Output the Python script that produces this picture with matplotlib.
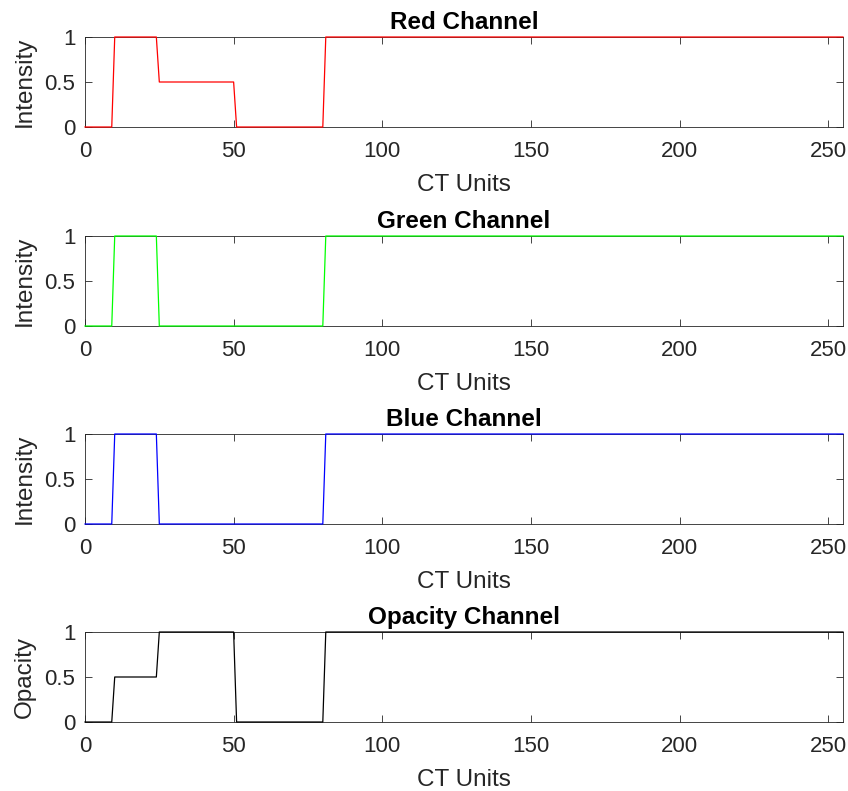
import matplotlib
matplotlib.use("Agg")
import matplotlib.pyplot as plt

plt.rcParams['font.family'] = ['Liberation Sans', 'DejaVu Sans']

# breakpoints of each transfer function (CT units -> value)
ct_points = [0, 9, 10, 24, 25, 50, 51, 80, 81, 255]
red_values = [0, 0, 1, 1, 0.5, 0.5, 0, 0, 1, 1]
green_values = [0, 0, 1, 1, 0, 0, 0, 0, 1, 1]
blue_values = [0, 0, 1, 1, 0, 0, 0, 0, 1, 1]
opacity_values = [0, 0, 0.5, 0.5, 1, 1, 0, 0, 1, 1]

titles = ['Red Channel', 'Green Channel', 'Blue Channel', 'Opacity Channel']
ylabels = ['Intensity', 'Intensity', 'Intensity', 'Opacity']
colors = ['#ff0000', '#00ff00', '#0000ff', '#000000']
series = [red_values, green_values, blue_values, opacity_values]

fig = plt.figure(figsize=(8.48, 7.91), dpi=100)

left, width, height = 85 / 848, 758 / 848, 90 / 791
tops = [37, 236, 434, 632]

for top, title, ylab, col, vals in zip(tops, titles, ylabels, colors, series):
    bottom = 1 - (top + 90) / 791
    ax = fig.add_axes([left, bottom, width, height])
    ax.plot(ct_points, vals, color=col, lw=0.9, clip_on=False, zorder=5)
    ax.set_xlim(0, 255)
    ax.set_ylim(0, 1)
    ax.set_xticks([0, 50, 100, 150, 200, 250])
    ax.set_yticks([0, 0.5, 1])
    ax.set_yticklabels(['0', '0.5', '1'])
    ax.tick_params(direction='in', top=True, right=True, labelsize=16,
                   length=5, width=0.6, color='#262626', labelcolor='#262626')
    ax.tick_params(axis='x', pad=10)
    ax.tick_params(axis='y', pad=7)
    for s in ax.spines.values():
        s.set_linewidth(0.6)
        s.set_color('#262626')
    ax.set_title(title, fontsize=17.5, fontweight='bold', pad=6)
    ax.set_xlabel('CT Units', fontsize=17.5, color='#262626', labelpad=9)
    ax.set_ylabel(ylab, fontsize=17.5, color='#262626', labelpad=6)

fig.savefig('out.png', dpi=100)
